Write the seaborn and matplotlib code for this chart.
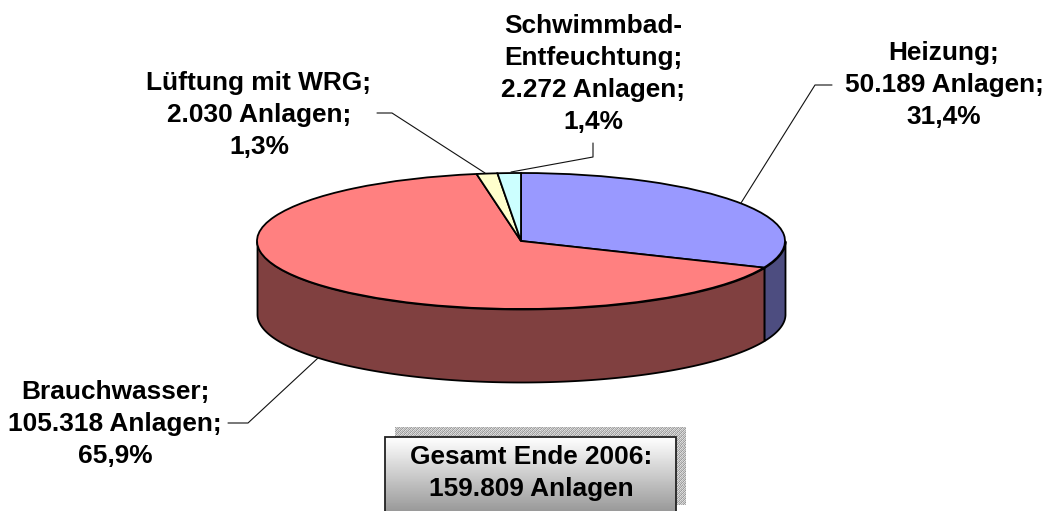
import numpy as np
import seaborn as sns
import matplotlib
matplotlib.use('Agg')
import matplotlib.pyplot as plt
from matplotlib.patches import Rectangle

names = ['Heizung', 'Brauchwasser', 'Lüftung mit WRG', 'Schwimmbad-\nEntfeuchtung']
counts = [50189, 105318, 2030, 2272]
count_labels = ['50.189 Anlagen', '105.318 Anlagen', '2.030 Anlagen', '2.272 Anlagen']
percent_labels = ['31,4%', '65,9%', '1,3%', '1,4%']
total_label = 'Gesamt Ende 2006:\n159.809 Anlagen'

top_colors = ['#9999ff', '#ff8080', '#ffffcc', '#ccffff']
side_colors = ['#4d4d80', '#804040', '#808066', '#668080']

W, H = 1045, 511
CX, CY, RX, RY = 521, 241, 264, 68
DEPTH = 73 / RY


def px(x, y):
    # picture pixels to pie units
    return (x - CX) / RX, (CY - y) / RY


sns.set_theme(style='white')
plt.rcParams['font.family'] = ['Liberation Sans', 'DejaVu Sans']

fig = plt.figure(figsize=(W / 100, H / 100), dpi=100)
ax = fig.add_axes([0, 0, 1, 1])

wedges, _ = ax.pie(
    counts,
    colors=sns.color_palette(top_colors),
    startangle=90,
    counterclock=False,
    radius=1,
    wedgeprops={'edgecolor': 'black', 'linewidth': 1.3, 'zorder': 3},
)

# front wall of the pie, only the part of each slice facing the viewer
for wedge, color in zip(wedges, side_colors):
    t1, t2 = wedge.theta1, wedge.theta2
    for shift in (0, 360, -360):
        a, b = max(t1 + shift, 180), min(t2 + shift, 360)
        if a < b:
            t = np.radians(np.linspace(a, b, 200))
            ax.fill_between(np.cos(t), np.sin(t), np.sin(t) - DEPTH, color=color,
                            edgecolor='black', linewidth=1.3, zorder=2)

ax.set_aspect('auto')
ax.axis('off')

leaders = [
    [(741, 203), (815, 85), (832, 85)],
    [(318, 358), (248, 423), (228, 423)],
    [(485, 173), (392, 113), (377, 113)],
    [(511, 172), (593, 157), (593, 143)],
]
for line in leaders:
    pts = np.array([px(*p) for p in line])
    ax.plot(pts[:, 0], pts[:, 1], color='#111111', lw=0.8, zorder=4)

label_pos = [(944, 85), (115, 424), (259, 115), (593, 74)]
for name, cnt, pct, pos in zip(names, count_labels, percent_labels, label_pos):
    x, y = px(*pos)
    ax.text(x, y, f'{name};\n{cnt};\n{pct}', ha='center', va='center',
            fontsize=18.9, fontweight='bold', color='black', linespacing=1.43, zorder=5)

# stippled shadow, tile repeated over the shadow rectangle
tile = np.array([[0.62, 0.85, 0.70, 0.78],
                 [0.88, 0.66, 0.82, 0.60],
                 [0.72, 0.80, 0.62, 0.86],
                 [0.84, 0.60, 0.88, 0.68]])
sx, sy = px(395, 427)
sx2, sy2 = px(686, 505)
ax.imshow(np.tile(tile, (20, 73)), cmap='gray', vmin=0, vmax=1, extent=(sx, sx2, sy2, sy),
          aspect='auto', interpolation='nearest', zorder=5)

# gradient box, runs off the bottom of the picture
bx, by = px(385, 437)
bx2, by2 = px(676, 512)
ramp = np.linspace(1.0, 0.6, 100).reshape(-1, 1)
ax.imshow(ramp, cmap='gray', vmin=0, vmax=1, extent=(bx, bx2, by2, by), aspect='auto', zorder=6)
ax.add_patch(Rectangle((bx, by2), bx2 - bx, by - by2, fill=False, edgecolor='#222222',
                       linewidth=1.3, zorder=7))

ax.set_xlim(px(0, 0)[0], px(W, 0)[0])
ax.set_ylim(px(0, H)[1], px(0, 0)[1])

x, y = px(531, 473)
ax.text(x, y, total_label, ha='center', va='center', fontsize=18.9, fontweight='bold',
        color='black', linespacing=1.37, zorder=8)

fig.savefig('out.png', dpi=100)
